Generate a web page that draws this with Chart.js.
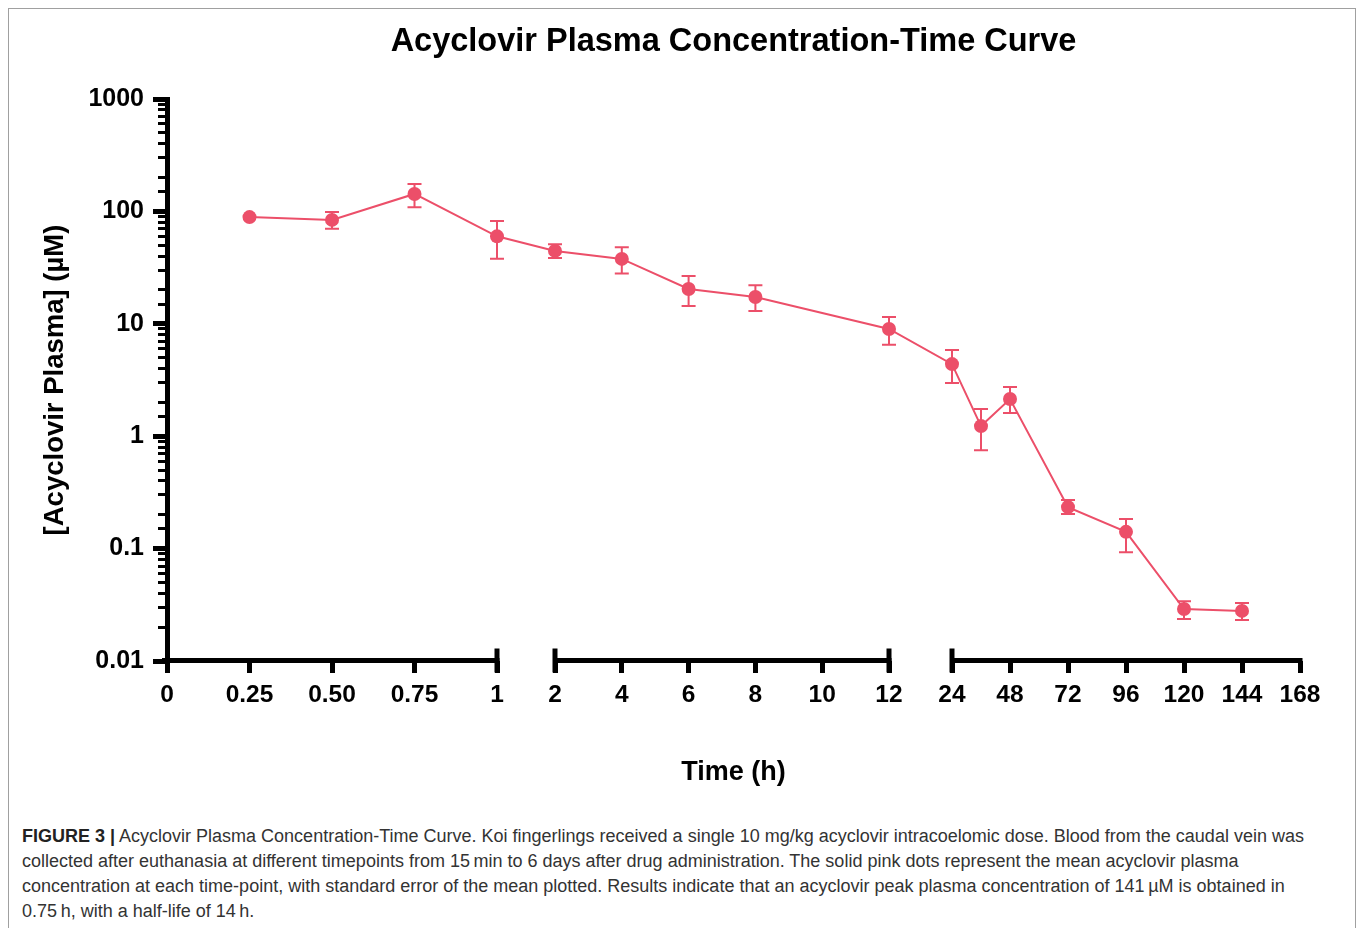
<!DOCTYPE html>
<html>
<head>
<meta charset="utf-8">
<script src="https://cdn.jsdelivr.net/npm/chart.js@4"></script>
<style>
  body { margin: 0; background: #fff; }
  #frame { position: absolute; left: 8px; top: 8px; width: 1346px; height: 960px; border: 1px solid #a0a0a0; }
  #wrap { position: absolute; left: 0; top: 0; width: 1358px; height: 791px; }
  #caption { position: absolute; left: 22px; top: 824px; font-family: "Liberation Sans", Arial, sans-serif; font-size: 18px; line-height: 25px; color: #333; white-space: nowrap; }
  #caption b { color: #222; }
</style>
</head>
<body>
<div id="frame"></div>
<div id="wrap"><canvas id="pk"></canvas></div>
<div id="caption"><b>FIGURE 3 |</b> Acyclovir Plasma Concentration-Time Curve. Koi fingerlings received a single 10 mg/kg acyclovir intracoelomic dose. Blood from the caudal vein was<br>collected after euthanasia at different timepoints from 15&#8201;min to 6 days after drug administration. The solid pink dots represent the mean acyclovir plasma<br>concentration at each time-point, with standard error of the mean plotted. Results indicate that an acyclovir peak plasma concentration of 141&#8201;µM is obtained in<br>0.75&#8201;h, with a half-life of 14&#8201;h.</div>
<script>
// sampling times (h) and mean plasma concentration (uM) with SEM bounds
const times = [0.25, 0.5, 0.75, 1, 2, 4, 6, 8, 12, 24, 36, 48, 72, 96, 120, 144]
const means = [89, 84, 143, 60, 44.5, 37.8, 20.4, 17.3, 9.0, 4.38, 1.23, 2.14, 0.234, 0.141, 0.029, 0.0279]
const upper = [89, 99, 175, 82, 51, 48, 26.6, 22, 11.5, 5.85, 1.75, 2.74, 0.271, 0.183, 0.034, 0.0328]
const lower = [89, 70, 109, 38, 38.5, 28, 14.4, 13, 6.5, 2.97, 0.75, 1.61, 0.203, 0.093, 0.0237, 0.0232]

const xTicks = [0, 0.25, 0.5, 0.75, 1, 2, 4, 6, 8, 10, 12, 24, 48, 72, 96, 120, 144, 168]
const xTickLabels = ['0', '0.25', '0.50', '0.75', '1', '2', '4', '6', '8', '10', '12', '24', '48', '72', '96', '120', '144', '168']
const segments = [[0, 1], [2, 12], [24, 168]]

const pink = '#ec4f69'
const font = '"Liberation Sans", Arial, Helvetica, sans-serif'

// broken time axis: each segment gets its own linear stretch
function toAxis(t) {
    if (t <= 1) return t * 330
    if (t <= 12) return 388 + (t - 2) * 33.4
    return 785 + (t - 24) * 348 / 144
}

const errorBars = {
    id: 'errorBars',
    beforeDatasetsDraw(chart) {
        const {ctx, scales: {x, y}} = chart
        ctx.save()
        ctx.strokeStyle = pink
        ctx.lineWidth = 2
        times.forEach(function(t, i) {
            if (upper[i] === lower[i]) return
            const px = x.getPixelForValue(toAxis(t))
            const top = y.getPixelForValue(upper[i])
            const bot = y.getPixelForValue(lower[i])
            ctx.beginPath()
            ctx.moveTo(px, top); ctx.lineTo(px, bot)
            ctx.moveTo(px - 7, top); ctx.lineTo(px + 7, top)
            ctx.moveTo(px - 7, bot); ctx.lineTo(px + 7, bot)
            ctx.stroke()
        })
        ctx.restore()
    }
}

const brokenAxis = {
    id: 'brokenAxis',
    beforeDatasetsDraw(chart) {
        const {ctx, chartArea, scales: {x}} = chart
        const yy = chartArea.bottom - 0.5
        ctx.save()
        ctx.strokeStyle = '#000'
        ctx.lineWidth = 5
        segments.forEach(function(seg, i) {
            let a = x.getPixelForValue(toAxis(seg[0]))
            const b = x.getPixelForValue(toAxis(seg[1]))
            if (i === 0) a = chartArea.left - 5
            ctx.beginPath()
            ctx.moveTo(a, yy); ctx.lineTo(b + 2.5, yy)
            ctx.stroke()
            // end caps on the inner breaks
            if (i > 0) {
                ctx.beginPath(); ctx.moveTo(a, yy - 12); ctx.lineTo(a, yy + 12); ctx.stroke()
            }
            if (i < segments.length - 1) {
                ctx.beginPath(); ctx.moveTo(b, yy - 12); ctx.lineTo(b, yy + 12); ctx.stroke()
            }
        })
        ctx.restore()
    }
}

function isDecade(v) {
    const l = Math.log10(v)
    return Math.abs(l - Math.round(l)) < 1e-6
}

new Chart(document.getElementById('pk'), {
    type: 'line',
    data: {
        datasets: [{
            label: 'Acyclovir',
            data: times.map(function(t, i) { return {x: toAxis(t), y: means[i]} }),
            borderColor: pink,
            backgroundColor: pink,
            borderWidth: 2,
            pointRadius: 7,
            pointBorderWidth: 0,
            pointBackgroundColor: pink,
            tension: 0
        }]
    },
    options: {
        responsive: true,
        maintainAspectRatio: false,
        animation: false,
        layout: { padding: { left: 0, right: 58, top: 0, bottom: 0 } },
        plugins: {
            legend: { display: false },
            tooltip: { enabled: false },
            title: {
                display: true,
                text: 'Acyclovir Plasma Concentration-Time Curve',
                fullSize: false,
                color: '#000',
                font: { family: font, size: 32.5, weight: 'bold' },
                padding: { top: 23, bottom: 37 }
            }
        },
        scales: {
            x: {
                type: 'linear',
                min: 0,
                max: 1133,
                afterBuildTicks: function(scale) {
                    scale.ticks = xTicks.map(function(t) { return {value: toAxis(t)} })
                },
                afterFit: function(scale) { scale.height = 130 },
                border: { display: false },
                grid: { drawOnChartArea: false, drawTicks: true, tickLength: 12, tickWidth: 5, tickColor: '#000' },
                ticks: {
                    autoSkip: false,
                    maxRotation: 0,
                    padding: 8,
                    color: '#000',
                    font: { family: font, size: 24.5, weight: 'bold' },
                    callback: function(value, index) { return xTickLabels[index] }
                },
                title: {
                    display: true,
                    text: 'Time (h)',
                    color: '#000',
                    font: { family: font, size: 27, weight: 'bold' },
                    padding: { top: 0, bottom: 2 }
                }
            },
            y: {
                type: 'logarithmic',
                min: 0.01,
                max: 1000,
                afterFit: function(scale) { scale.width = 167 },
                border: { display: true, color: '#000', width: 5 },
                grid: {
                    drawOnChartArea: false,
                    drawTicks: true,
                    tickLength: 14,
                    tickColor: '#000',
                    tickWidth: function(ctx) { return ctx.tick && isDecade(ctx.tick.value) ? 5 : 3 },
                    tickBorderDash: function(ctx) { return ctx.tick && isDecade(ctx.tick.value) ? [] : [0, 5, 60, 0] }
                },
                ticks: {
                    autoSkip: false,
                    padding: 9,
                    color: '#000',
                    font: { family: font, size: 25, weight: 'bold' },
                    callback: function(value) { return isDecade(value) ? String(value) : '' }
                },
                title: {
                    display: true,
                    text: '[Acyclovir Plasma] (µM)',
                    color: '#000',
                    font: { family: font, size: 27.5, weight: 'bold' },
                    padding: { top: 39, bottom: 0 }
                }
            }
        }
    },
    plugins: [brokenAxis, errorBars]
})
</script>
</body>
</html>
